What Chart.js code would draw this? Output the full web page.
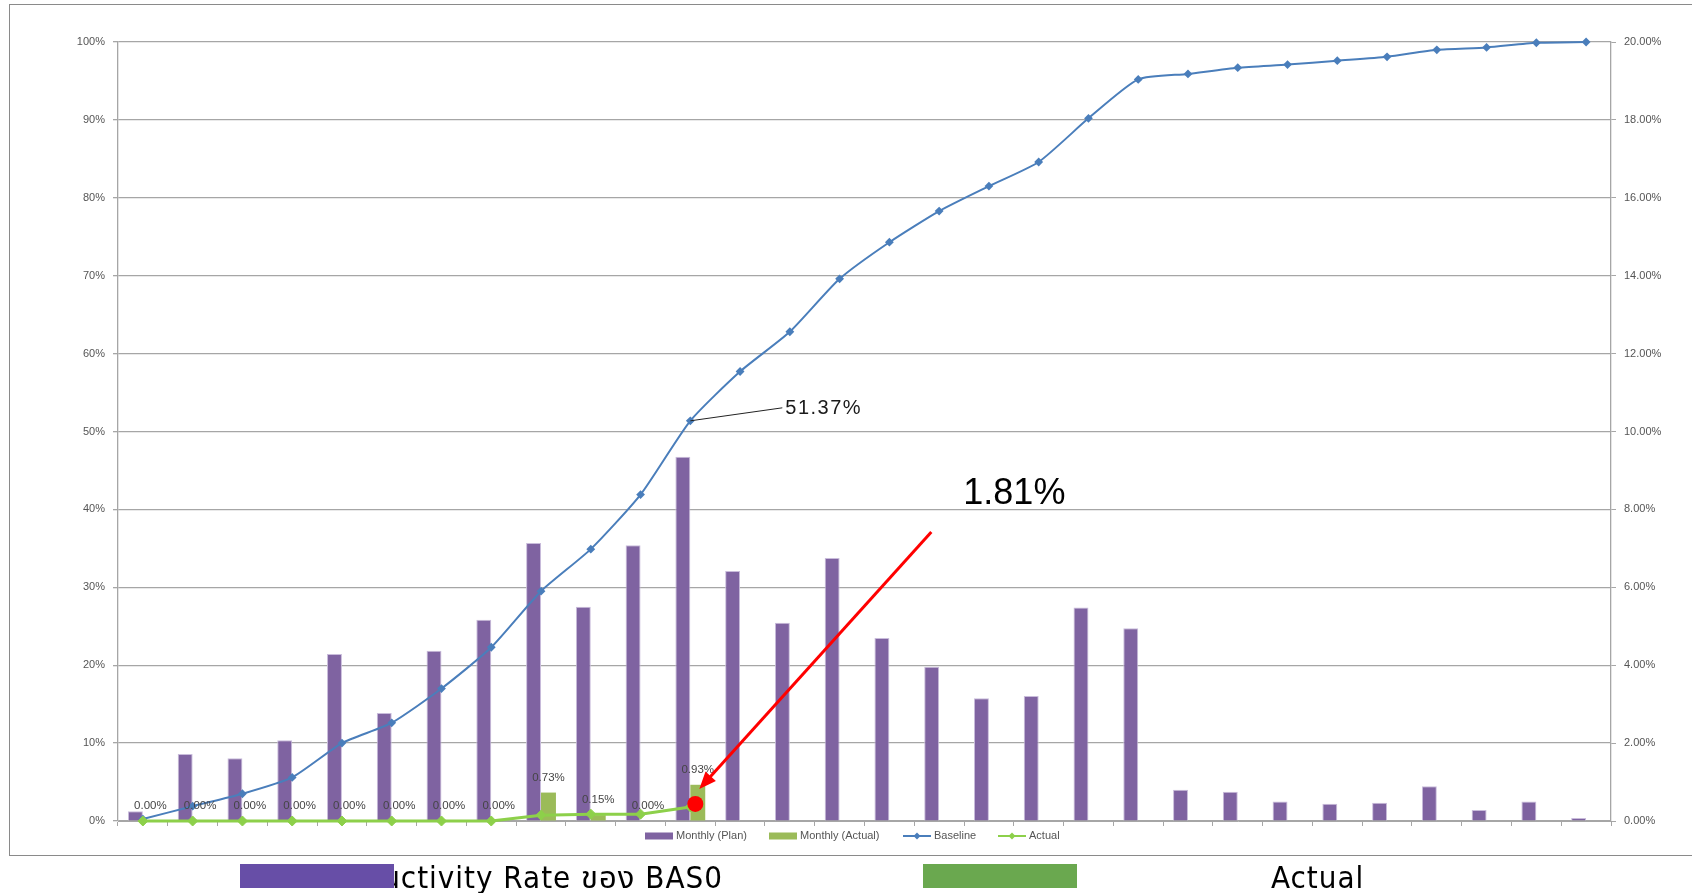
<!DOCTYPE html>
<html>
<head>
<meta charset="utf-8">
<script src="https://cdn.jsdelivr.net/npm/chart.js@4.4.1/dist/chart.umd.min.js"></script>
<style>
  html, body { margin: 0; padding: 0; background: #fff; overflow: hidden; }
  #frame { position: absolute; left: 9px; top: 4px; width: 1720px; height: 852px; border: 1.5px solid #8a8a8a; box-sizing: border-box; }
  #wrap { position: absolute; left: 0; top: 0; width: 1692px; height: 893px; }
  .cap { position: absolute; top: 859px; height: 34px; line-height: 36px; font-family: "DejaVu Sans Condensed", "Noto Sans Thai", "Noto Sans", sans-serif; font-size: 31px; letter-spacing: 1px; color: #000; white-space: nowrap; }
  .swatch { position: absolute; top: 864px; height: 24px; width: 154px; }
</style>
</head>
<body>
<div id="frame"></div>
<div id="wrap"><canvas id="progress-chart"></canvas></div>
<span class="cap" style="right: 969px;">Productivity Rate ของ BAS0</span>
<div class="swatch" style="left: 240px; background: #674ea7;"></div>
<div class="swatch" style="left: 923px; background: #6aa84f;"></div>
<span class="cap" style="left: 1271px;">Actual</span>

<script>
const months = ['1', '2', '3', '4', '5', '6', '7', '8', '9', '10',
  '11', '12', '13', '14', '15', '16', '17', '18', '19', '20',
  '21', '22', '23', '24', '25', '26', '27', '28', '29', '30'];

// monthly values, right axis (%)
const monthlyPlan = [0.25, 1.72, 1.61, 2.07, 4.29, 2.77, 4.37, 5.17, 7.14, 5.50,
  7.08, 9.35, 6.42, 5.09, 6.75, 4.70, 3.96, 3.15, 3.21, 5.48,
  4.95, 0.80, 0.75, 0.50, 0.44, 0.47, 0.89, 0.28, 0.50, 0.08];
const monthlyActual = [0, 0, 0, 0, 0, 0, 0, 0, 0.73, 0.15, 0, 0.93];

// cumulative values, left axis (%)
const baseline = [0.25, 1.9, 3.5, 5.6, 10.0, 12.6, 17.0, 22.3, 29.5, 34.9,
  41.9, 51.37, 57.7, 62.8, 69.6, 74.3, 78.3, 81.5, 84.6, 90.2,
  95.2, 95.9, 96.7, 97.1, 97.6, 98.1, 99.0, 99.3, 99.9, 100];
const actualCum = [0, 0, 0, 0, 0, 0, 0, 0, 0.75, 0.88, 0.88, 1.81];

const legendItems = [
  { label: 'Monthly (Plan)', type: 'box', color: '#7f63a1' },
  { label: 'Monthly (Actual)', type: 'box', color: '#9bbb59' },
  { label: 'Baseline', type: 'line', color: '#4a7ebb' },
  { label: 'Actual', type: 'line', color: '#8dd04a' },
];

const tickFont = { family: '"Liberation Sans", Arial, sans-serif', size: 11 };
const gridGray = '#a6a6a6';

function diamond(ctx, x, y, r) {
  ctx.beginPath();
  ctx.moveTo(x, y - r);
  ctx.lineTo(x + r, y);
  ctx.lineTo(x, y + r);
  ctx.lineTo(x - r, y);
  ctx.closePath();
  ctx.fill();
}

const notesPlugin = {
  id: 'notes',
  afterDatasetsDraw(chart) {
    const ctx = chart.ctx;
    ctx.save();

    // labels over the actual monthly bars
    const barMeta = chart.getDatasetMeta(1);
    ctx.font = '11.5px "Liberation Sans", Arial, sans-serif';
    ctx.fillStyle = '#454545';
    ctx.textAlign = 'center';
    ctx.textBaseline = 'middle';
    barMeta.data.forEach((bar, i) => {
      if (monthlyActual[i] == null) return;
      ctx.fillText(monthlyActual[i].toFixed(2) + '%', bar.x, bar.y - 15);
    });

    // 51.37% callout on baseline
    const bp = chart.getDatasetMeta(2).data[11];
    ctx.strokeStyle = '#222';
    ctx.lineWidth = 1;
    ctx.beginPath();
    ctx.moveTo(bp.x, bp.y);
    ctx.lineTo(bp.x + 92, bp.y - 13);
    ctx.stroke();
    ctx.font = '20px "Liberation Sans", Arial, sans-serif';
    ctx.letterSpacing = '1.5px';
    ctx.fillStyle = '#1a1a1a';
    ctx.textAlign = 'left';
    ctx.fillText(baseline[11].toFixed(2) + '%', bp.x + 95, bp.y - 12);
    ctx.letterSpacing = '0px';

    // red arrow to latest actual point
    const ap = chart.getDatasetMeta(3).data[11];
    const dot = { x: ap.x + 5, y: ap.y - 3 };
    const tip = { x: dot.x + 4, y: dot.y - 15 };
    const tail = { x: dot.x + 236, y: dot.y - 272 };
    const ang = Math.atan2(tip.y - tail.y, tip.x - tail.x);
    ctx.strokeStyle = '#ff0000';
    ctx.fillStyle = '#ff0000';
    ctx.lineWidth = 3;
    ctx.beginPath();
    ctx.moveTo(tail.x, tail.y);
    ctx.lineTo(tip.x - 12 * Math.cos(ang), tip.y - 12 * Math.sin(ang));
    ctx.stroke();
    ctx.beginPath();
    ctx.moveTo(tip.x, tip.y);
    ctx.lineTo(tip.x - 17 * Math.cos(ang) + 7 * Math.sin(ang), tip.y - 17 * Math.sin(ang) - 7 * Math.cos(ang));
    ctx.lineTo(tip.x - 17 * Math.cos(ang) - 7 * Math.sin(ang), tip.y - 17 * Math.sin(ang) + 7 * Math.cos(ang));
    ctx.closePath();
    ctx.fill();
    ctx.beginPath();
    ctx.arc(dot.x, dot.y, 8, 0, Math.PI * 2);
    ctx.fill();

    ctx.font = '36px "Liberation Sans", Arial, sans-serif';
    ctx.fillStyle = '#000';
    ctx.textAlign = 'left';
    ctx.textBaseline = 'middle';
    ctx.fillText(actualCum[11].toFixed(2) + '%', dot.x + 268, dot.y - 310);

    ctx.restore();
  },
  afterDraw(chart) {
    // small legend under the axis
    const ctx = chart.ctx;
    const y = chart.chartArea.bottom + 15;
    const starts = [645, 769, 903, 998];
    ctx.save();
    ctx.font = '11px "Liberation Sans", Arial, sans-serif';
    ctx.textBaseline = 'middle';
    ctx.textAlign = 'left';
    legendItems.forEach((item, i) => {
      const x = starts[i];
      if (item.type === 'box') {
        ctx.fillStyle = item.color;
        ctx.fillRect(x, y - 3.5, 28, 7);
      } else {
        ctx.strokeStyle = item.color;
        ctx.fillStyle = item.color;
        ctx.lineWidth = 2;
        ctx.beginPath();
        ctx.moveTo(x, y);
        ctx.lineTo(x + 28, y);
        ctx.stroke();
        diamond(ctx, x + 14, y, 3.5);
      }
      ctx.fillStyle = '#555';
      ctx.fillText(item.label, x + 31, y);
    });
    ctx.restore();
  }
};

new Chart(document.getElementById('progress-chart'), {
  data: {
    labels: months,
    datasets: [
      {
        type: 'bar',
        label: 'Monthly (Plan)',
        data: monthlyPlan,
        yAxisID: 'y1',
        backgroundColor: '#7f63a1',
        borderColor: '#c9bcdb',
        borderWidth: { left: 1, right: 1, top: 1, bottom: 0 },
        categoryPercentage: 0.6,
        barPercentage: 1,
        order: 2
      },
      {
        type: 'bar',
        label: 'Monthly (Actual)',
        data: monthlyActual,
        yAxisID: 'y1',
        backgroundColor: '#9bbb59',
        categoryPercentage: 0.6,
        barPercentage: 1,
        order: 2
      },
      {
        type: 'line',
        label: 'Baseline',
        data: baseline,
        yAxisID: 'y',
        borderColor: '#4a7ebb',
        backgroundColor: '#4a7ebb',
        borderWidth: 2,
        tension: 0.2,
        pointStyle: 'rectRot',
        pointRadius: 3,
        clip: false,
        order: 1
      },
      {
        type: 'line',
        label: 'Actual',
        data: actualCum,
        yAxisID: 'y',
        borderColor: '#8dd04a',
        backgroundColor: '#8dd04a',
        borderWidth: 3,
        tension: 0,
        pointStyle: 'rectRot',
        pointRadius: 5,
        pointBorderWidth: 1,
        clip: false,
        order: 0
      }
    ]
  },
  options: {
    responsive: true,
    maintainAspectRatio: false,
    animation: false,
    layout: { padding: { top: 42, bottom: 67, left: 0, right: 0 } },
    plugins: {
      legend: { display: false },
      tooltip: { enabled: false }
    },
    scales: {
      x: {
        grid: { drawOnChartArea: false, color: gridGray, tickLength: 5, offset: true },
        border: { color: gridGray },
        ticks: { display: false }
      },
      y: {
        position: 'left',
        min: 0,
        max: 100,
        afterFit: (scale) => { scale.width = 118; },
        ticks: {
          stepSize: 10,
          padding: 8,
          color: '#555',
          font: tickFont,
          callback: (v) => v + '%'
        },
        grid: { color: gridGray, lineWidth: 1.3, tickLength: 5 },
        border: { color: gridGray, width: 1.3 }
      },
      y1: {
        position: 'right',
        min: 0,
        max: 20,
        afterFit: (scale) => { scale.width = 81; },
        ticks: {
          stepSize: 2,
          padding: 8,
          color: '#555',
          font: tickFont,
          callback: (v) => v.toFixed(2) + '%'
        },
        grid: { drawOnChartArea: false, color: gridGray, tickLength: 5 },
        border: { color: gridGray, width: 1.3 }
      }
    }
  },
  plugins: [notesPlugin]
});
</script>
</body>
</html>
